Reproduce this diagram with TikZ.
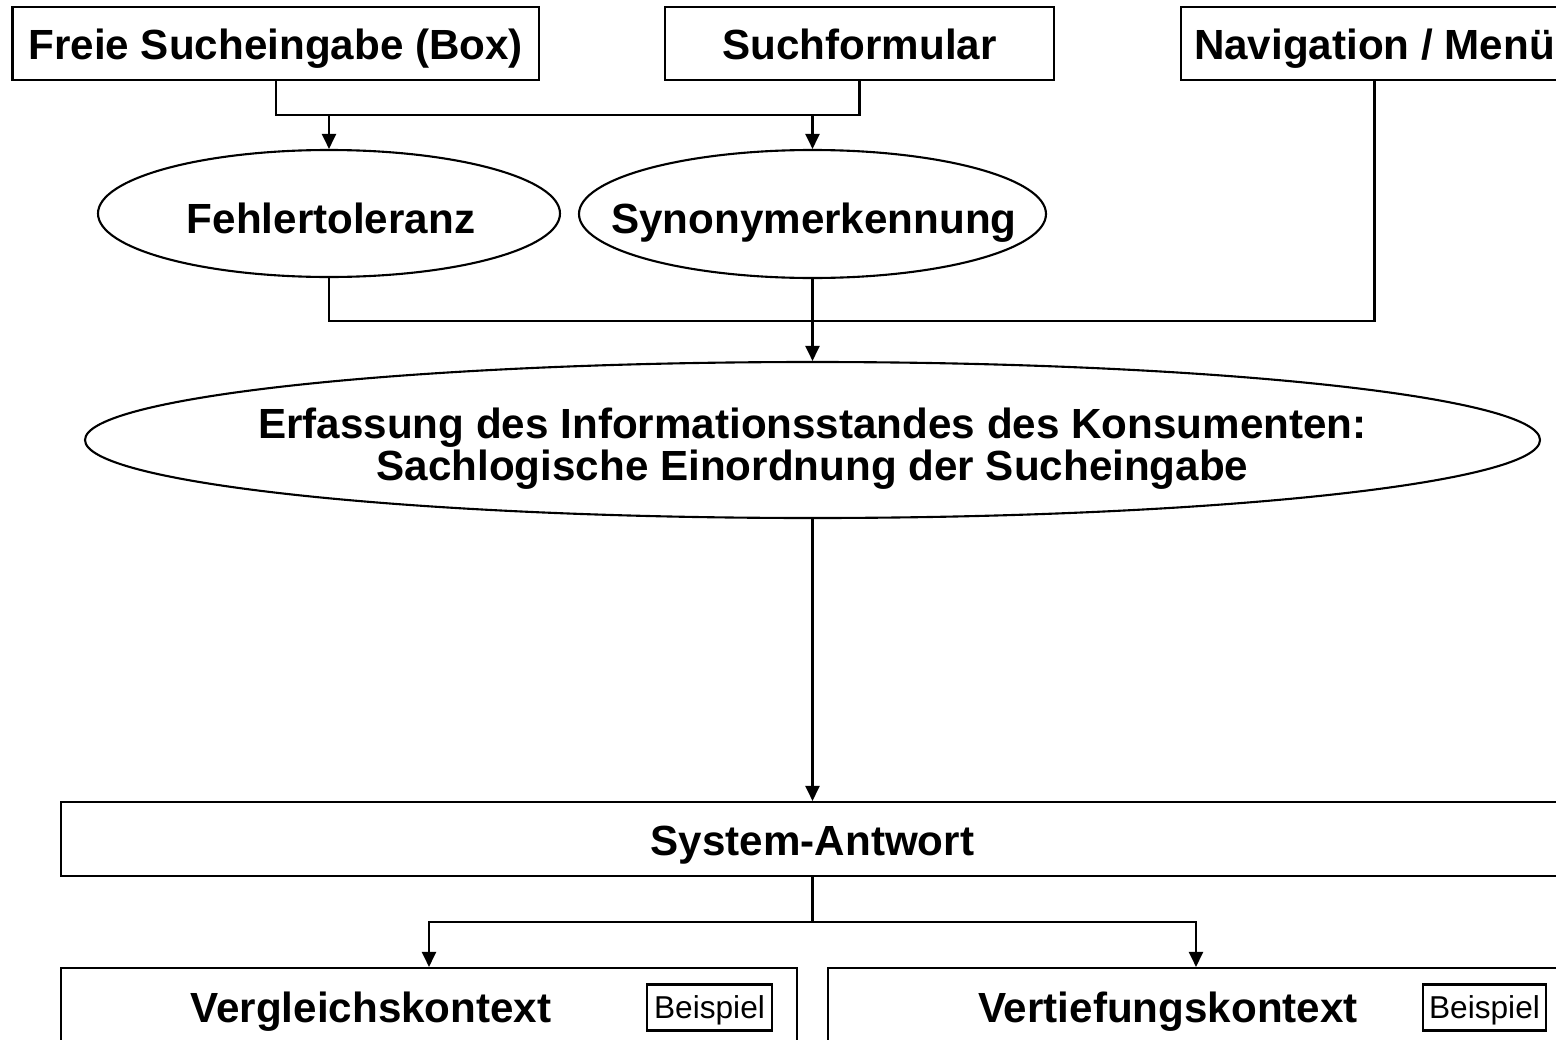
\documentclass[tikz,border=0pt]{standalone}
\usepackage{fontspec}
\setmainfont{Liberation Sans}
\usetikzlibrary{shapes.geometric,arrows.meta}
\begin{document}
\begin{tikzpicture}[line width=0.6pt,
    box/.style={draw,rectangle,inner sep=0pt,text height=0.32cm,text depth=0pt,font=\fontsize{12}{11}\selectfont\bfseries},
    oval/.style={draw,ellipse,inner sep=0pt},
    txt/.style={anchor=base,inner sep=0pt,align=center,font={\fontsize{12}{11.9}\selectfont\bfseries\lineskiplimit-20pt\relax}},
    bsp/.style={draw,rectangle,inner sep=0pt,minimum height=0.46cm,text height=0.22cm,text depth=0pt,font=\fontsize{9}{10}\selectfont},
    arr/.style={-{Triangle[length=1.5mm,width=1.4mm]}}]
  \useasboundingbox (0,0) rectangle (15.56,-10.39);
  \clip (0,0) rectangle (15.56,-10.39);
  % Eingabe
  \node[box,minimum width=5.265cm,minimum height=0.73cm] at (2.7575,-0.435) (freie) {Freie Sucheingabe (Box)};
  \node[box,minimum width=3.89cm,minimum height=0.73cm] at (8.595,-0.435) (such) {Suchformular};
  \node[box,minimum width=3.87cm,minimum height=0.73cm] at (13.745,-0.435) (nav) {Navigation / Menü};
  \node[oval,minimum width=4.62cm,minimum height=1.27cm] at (3.29,-2.135) (fehl) {};
  \node[oval,minimum width=4.67cm,minimum height=1.28cm] at (8.125,-2.14) (syn) {};
  \node[txt] at (3.31,-2.33) (tfehl) {Fehlertoleranz};
  \node[txt] at (8.14,-2.33) (tsyn) {Synonymerkennung};
  \node[oval,minimum width=14.55cm,minimum height=1.56cm] at (8.125,-4.40) (erf) {};
  \node[txt] at (8.125,-4.80) (terf) {Erfassung des Informationsstandes des Konsumenten:\\Sachlogische Einordnung der Sucheingabe};
  % Antwort
  \node[box,minimum width=15.03cm,minimum height=0.74cm] at (8.125,-8.39) (antw) {System-Antwort};
  \node[draw,rectangle,minimum width=7.36cm,minimum height=1.5cm] at (4.29,-10.43) (vergl) {};
  \node[draw,rectangle,minimum width=7.36cm,minimum height=1.5cm] at (11.96,-10.43) (vert) {};
  \node[txt] at (3.71,-10.22) (tvergl) {Vergleichskontext};
  \node[txt] at (11.68,-10.22) (tvert) {Vertiefungskontext};
  \node[bsp,minimum width=1.25cm] at (7.095,-10.075) (bsp1) {Beispiel};
  \node[bsp,minimum width=1.23cm] at (14.845,-10.075) (bsp2) {Beispiel};
  % Verbindungen
  \coordinate (j1) at (0,-1.15);
  \coordinate (j2) at (0,-3.21);
  \coordinate (j3) at (0,-9.22);
  \draw (freie.south) |- (j1 -| such.south) -- (such.south);
  \draw[arr] (j1 -| fehl.north) -- (fehl.north);
  \draw[arr] (j1 -| syn.north) -- (syn.north);
  \draw (fehl.south) |- (j2 -| nav.south) -- (nav.south);
  \draw[arr] (syn.south) -- (erf.north);
  \draw[arr] (erf.south) -- (antw.north);
  \draw (antw.south) -- (j3 -| antw.south);
  \draw[arr] (j3 -| antw.south) -| (vergl.north);
  \draw[arr] (j3 -| antw.south) -| (vert.north);
\end{tikzpicture}
\end{document}
